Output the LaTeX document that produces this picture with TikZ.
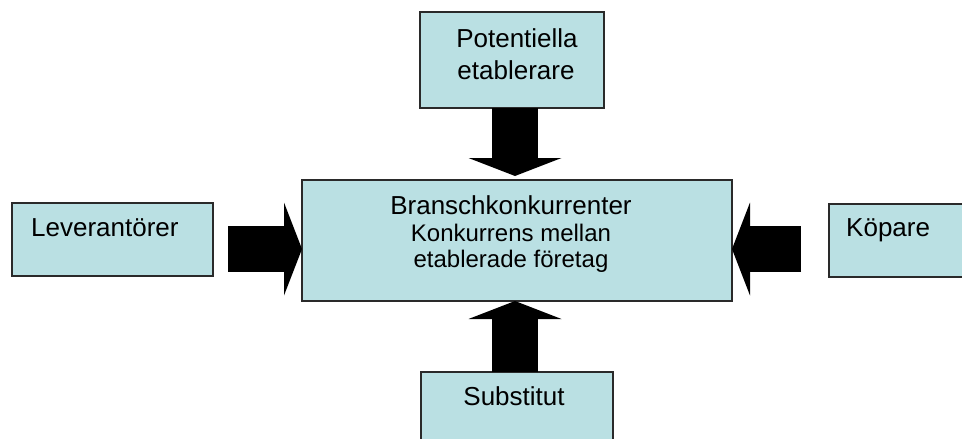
\documentclass[tikz,border=0pt]{standalone}
\usepackage{fontspec}
\setmainfont{Liberation Sans}
\usetikzlibrary{arrows.meta,calc}
\definecolor{boxfill}{HTML}{BAE0E3}
\definecolor{boxline}{HTML}{2A2A2A}
\tikzset{
  box/.style={draw=boxline, line width=1.2pt, fill=boxfill, rectangle,
    inner sep=0pt, outer sep=0pt, anchor=north west},
  lbl/.style={inner sep=0pt, font=\fontsize{26}{30}\selectfont},
  small/.style={inner sep=0pt, font=\fontsize{24}{28}\selectfont},
  blockarrow/.style={draw=black, line width=46pt,
    -{Triangle[width=93pt,length=18pt,line width=0pt]}}
}
\begin{document}
\begin{tikzpicture}[x=1pt,y=-1pt]
\clip (0,0) rectangle (962,439);
\fill[white] (0,0) rectangle (962,439);
% boxes
\node[box, minimum width=184pt, minimum height=96pt] (top) at (420,12) {};
\node[box, minimum width=430pt, minimum height=121pt] (mid) at (302,180) {};
\node[box, minimum width=201pt, minimum height=73pt] (left) at (12,203) {};
\node[box, minimum width=201pt, minimum height=73pt] (right) at (829,204) {};
\node[box, minimum width=192pt, minimum height=98pt] (bot) at (421,372) {};
% texts
\node[lbl, anchor=base] (pot1) at (517,47) {Potentiella};
\node[lbl, anchor=base] (pot2) at (516,79) {etablerare};
\node[lbl, anchor=base] (bk) at (511,214) {Branschkonkurrenter};
\node[small, anchor=base] (km) at (511,241) {Konkurrens mellan};
\node[small, anchor=base] (ef) at (511,267) {etablerade företag};
\node[lbl, anchor=base west] (lev) at (31,236) {Leverantörer};
\node[lbl, anchor=base west] (kop) at (846,236) {Köpare};
\node[lbl, anchor=base] (sub) at (514,405) {Substitut};
% arrows
\coordinate (ta) at (top.south -| 515,0);
\coordinate (tt) at ($(mid.north -| 515,0)+(0,-4)$);
\coordinate (ba) at (bot.north -| 515,0);
\coordinate (bt) at (mid.south -| 515,0);
\coordinate (la) at ($(left.east |- 0,249)+(15,0)$);
\coordinate (lt) at (mid.west |- 0,249);
\coordinate (ra) at ($(right.west |- 0,249)+(-28,0)$);
\coordinate (rt) at (mid.east |- 0,249);
\draw[blockarrow] (ta) -- (tt);
\draw[blockarrow] (ba) -- (bt);
\draw[blockarrow] (la) -- (lt);
\draw[blockarrow] (ra) -- (rt);
\end{tikzpicture}
\end{document}
